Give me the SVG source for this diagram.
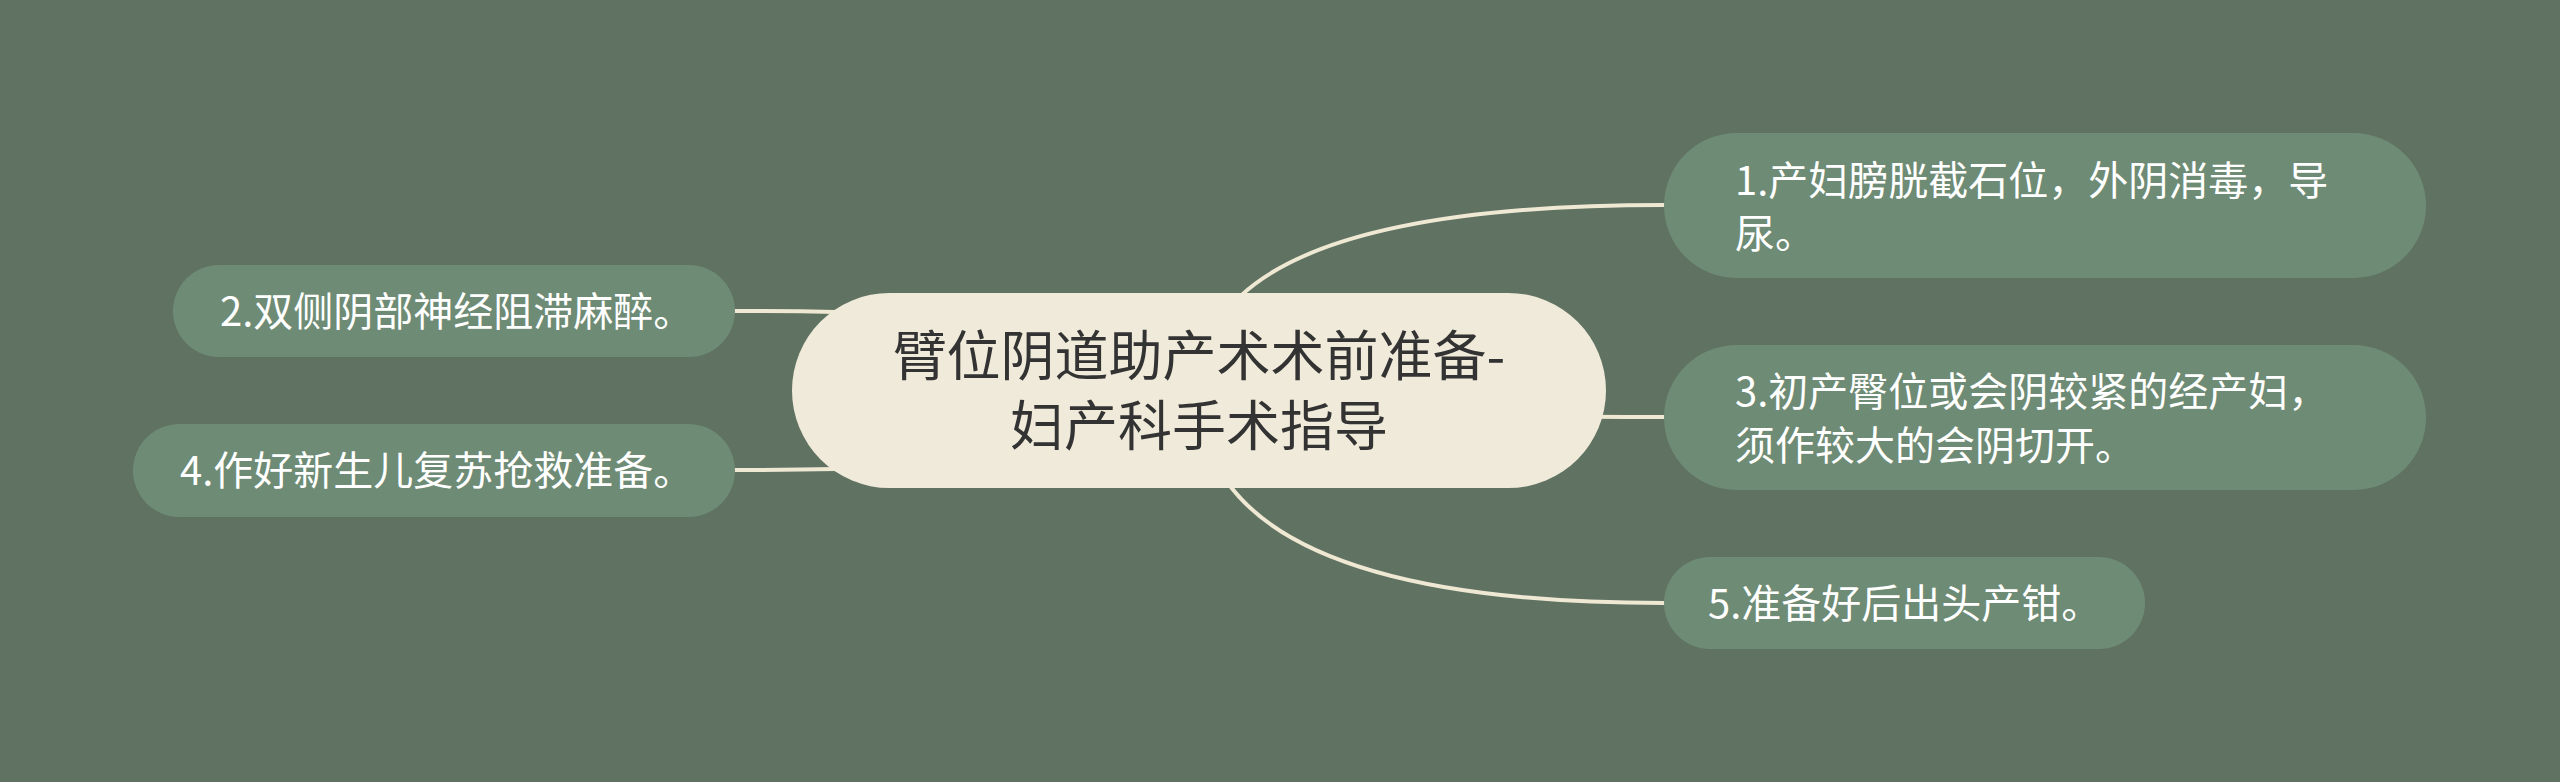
<svg xmlns="http://www.w3.org/2000/svg" width="2560" height="782" viewBox="0 0 2560 782">
<style>
.bg{fill:#607262}
.link{fill:none;stroke:#efe8d3;stroke-width:4;stroke-linecap:round}
.child rect{fill:#6e8b75}
.child text{fill:#ffffff;font-family:"Noto Sans CJK SC","Noto Sans",sans-serif;font-size:40px}
.root rect{fill:#efead9}
.root text{fill:#333333;font-family:"Noto Sans CJK SC","Noto Sans",sans-serif;font-size:54px;text-anchor:middle}
</style>
<rect class="bg" x="0" y="0" width="2560" height="782"/>
<g id="connectors">
<path class="link" d="M1199,390 Q1199,205 1664,205"/>
<path class="link" d="M1199,390 Q1199,311 735,311"/>
<path class="link" d="M1199,390 Q1199,417 1664,417"/>
<path class="link" d="M1199,390 Q1199,470 735,470"/>
<path class="link" d="M1199,390 Q1199,603 1664,603"/>
</g>
<g id="root" class="root">
<rect x="792" y="293" width="814" height="195" rx="97.5" ry="97.5"/>
<text x="1199" y="376">臂位阴道助产术术前准备-<tspan x="1199" y="446">妇产科手术指导</tspan></text>
</g>
<g id="node1" class="child">
<rect x="1664" y="133" width="762" height="145" rx="72.5" ry="72.5"/>
<text x="1735" y="195">1.产妇膀胱截石位，外阴消毒，导<tspan x="1735" y="248">尿。</tspan></text>
</g>
<g id="node2" class="child">
<rect x="173" y="265" width="562" height="92" rx="46" ry="46"/>
<text x="220" y="326">2.双侧阴部神经阻滞麻醉。</text>
</g>
<g id="node3" class="child">
<rect x="1664" y="345" width="762" height="145" rx="72.5" ry="72.5"/>
<text x="1735" y="406">3.初产臀位或会阴较紧的经产妇，<tspan x="1735" y="460">须作较大的会阴切开。</tspan></text>
</g>
<g id="node4" class="child">
<rect x="133" y="424" width="602" height="93" rx="46.5" ry="46.5"/>
<text x="180" y="485">4.作好新生儿复苏抢救准备。</text>
</g>
<g id="node5" class="child">
<rect x="1664" y="557" width="481" height="92" rx="46" ry="46"/>
<text x="1708" y="618">5.准备好后出头产钳。</text>
</g>
</svg>
